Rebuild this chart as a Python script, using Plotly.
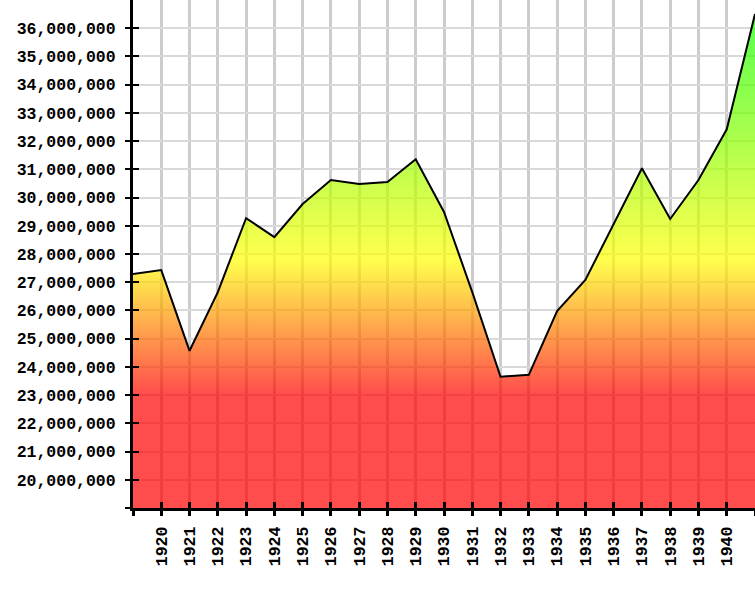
import plotly.graph_objects as go

years = list(range(1919, 1942))
values = [27.29e6, 27.43e6, 24.57e6, 26.65e6, 29.27e6, 28.60e6, 29.77e6, 30.62e6,
          30.48e6, 30.55e6, 31.36e6, 29.49e6, 26.65e6, 23.65e6, 23.72e6, 25.98e6,
          27.08e6, 29.06e6, 31.04e6, 29.24e6, 30.62e6, 32.42e6, 36.50e6]

x_tickvals = years
x_ticktext = [str(y) if 1920 <= y <= 1940 else "" for y in years]
y_tickvals = [v * 1e6 for v in range(19, 37)]
y_ticktext = ["" if v == 19e6 else f"{int(v):,}" for v in y_tickvals]

tfont = dict(family="Liberation Mono", size=16.5, color="black", weight="bold")

fig = go.Figure()
fig.add_trace(go.Scatter(
    x=years, y=values, mode="lines", fill="tozeroy",
    line=dict(color="black", width=2),
    fillgradient=dict(
        type="vertical", start=19e6, stop=37e6,
        colorscale=[[0.0, "rgba(255,0,0,0.7)"], [0.222, "rgba(255,0,0,0.7)"],
                    [0.489, "rgba(255,255,0,0.7)"], [1.0, "rgba(0,255,0,0.7)"]],
    ),
    hoverinfo="skip", showlegend=False,
))
fig.add_trace(go.Scatter(
    x=years, y=values, xaxis="x2", yaxis="y2", mode="lines",
    line=dict(width=0, color="rgba(0,0,0,0)"), hoverinfo="skip", showlegend=False,
))

common_x = dict(range=[1919, 1941], tickmode="array", tickvals=x_tickvals, automargin=False)
common_y = dict(range=[19e6, 37e6], tickmode="array", tickvals=y_tickvals, automargin=False)

fig.update_layout(
    width=755, height=600,
    margin=dict(l=133, r=0, t=0, b=92),
    paper_bgcolor="white", plot_bgcolor="white",
    xaxis=dict(**common_x, ticktext=x_ticktext, tickangle=-90,
               showgrid=True, gridcolor="#cccccc", gridwidth=3,
               showline=True, linecolor="black", linewidth=3,
               ticks="outside", ticklen=5, tickwidth=3, tickcolor="black",
               tickfont=tfont, ticklabelstandoff=4,
               zeroline=False),
    yaxis=dict(**common_y, ticktext=y_ticktext,
               showgrid=True, gridcolor="#d9d9d9", gridwidth=2,
               showline=True, linecolor="black", linewidth=3,
               ticks="outside", ticklen=5, tickwidth=2, tickcolor="black",
               tickfont=tfont, ticklabelstandoff=6,
               zeroline=False),
    xaxis2=dict(**common_x, overlaying="x", anchor="y2", side="bottom",
                showticklabels=False, showgrid=False, zeroline=False,
                ticks="inside", ticklen=6, tickwidth=3, tickcolor="black"),
    yaxis2=dict(**common_y, overlaying="y", anchor="x2", side="left",
                showticklabels=False, showgrid=False, zeroline=False,
                ticks="inside", ticklen=6, tickwidth=2, tickcolor="black"),
)

fig.write_html("out.html", config={"displayModeBar": False},
               post_script="document.body.style.margin='0';")
